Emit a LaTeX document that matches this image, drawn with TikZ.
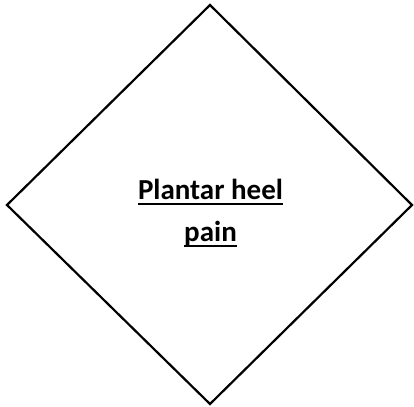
\documentclass[tikz,border=0pt]{standalone}
\usepackage{fontspec}
\setmainfont{Carlito}
\begin{document}
\begin{tikzpicture}[x=1pt,y=1pt,
  edge/.style={line width=2.2pt,line join=miter},
  uline/.style={line width=1.8pt},
  lbl/.style={anchor=base,inner sep=0pt,font=\fontsize{29}{34}\selectfont\bfseries}]
\useasboundingbox (0,0) rectangle (414,406);
\coordinate (t) at (210,401);
\coordinate (r) at (412,201);
\coordinate (b) at (210,2);
\coordinate (l) at (7,201);
\draw[edge] (t) -- (r) -- (b) -- (l) -- cycle;
\node[lbl] (l1) at (210.5,206) {Plantar heel};
\node[lbl] (l2) at (210.5,164) {pain};
\draw[uline] ([yshift=-4pt]l1.base west) -- ([yshift=-4pt]l1.base east);
\draw[uline] ([yshift=-4pt]l2.base west) -- ([yshift=-4pt]l2.base east);
\end{tikzpicture}
\end{document}
